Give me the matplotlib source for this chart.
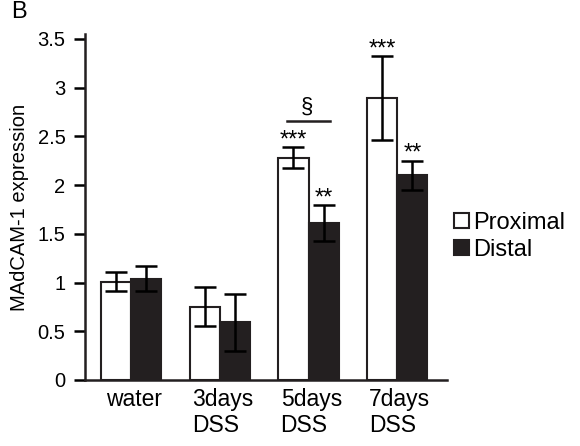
import matplotlib
matplotlib.use('Agg')
import matplotlib.pyplot as plt
from matplotlib.patches import Patch
import numpy as np

plt.rcParams['font.family'] = ['Liberation Sans', 'DejaVu Sans']

groups = ['water', '3days\nDSS', '5days\nDSS', '7days\nDSS']
proximal = [1.01, 0.75, 2.28, 2.89]
proximal_err = [0.10, 0.20, 0.105, 0.43]
distal = [1.04, 0.59, 1.61, 2.10]
distal_err = [0.13, 0.29, 0.18, 0.15]
proximal_marks = ['', '', '***', '***']
distal_marks = ['', '', '**', '**']

dark = '#231f20'
x = np.arange(len(groups))
w = 0.34

fig = plt.figure(figsize=(5.8, 4.46), dpi=100)
ax = fig.add_axes([0.1466, 0.148, 0.624, 0.776])

ax.bar(x - w/2, proximal, w, color='white', edgecolor=dark, linewidth=1.5,
       yerr=proximal_err, capsize=8, error_kw=dict(elinewidth=1.8, capthick=1.8, ecolor='black'))
ax.bar(x + w/2, distal, w, color=dark, edgecolor=dark, linewidth=1.5,
       yerr=distal_err, capsize=8, error_kw=dict(elinewidth=1.8, capthick=1.8, ecolor='black'))

# Значимость над столбиками
for i in range(len(groups)):
    if proximal_marks[i]:
        ax.text(x[i] - w/2, proximal[i] + proximal_err[i] + 0.01, proximal_marks[i],
                ha='center', va='baseline', fontsize=17)
    if distal_marks[i]:
        ax.text(x[i] + w/2, distal[i] + distal_err[i] + 0.01, distal_marks[i],
                ha='center', va='baseline', fontsize=17)

# § между proximal и distal на 5 днях
ax.plot([x[2] - w/2 - 0.07, x[2] + w/2 + 0.07], [2.66, 2.66], color=dark, lw=1.8)
ax.text(x[2] - 0.02, 2.80, '§', ha='center', va='center', fontsize=16)

ax.set_xlim(-0.52, 3.56)
ax.set_ylim(0, 3.55)
ax.set_yticks([0, 0.5, 1, 1.5, 2, 2.5, 3, 3.5])
ax.set_yticklabels(['0', '0.5', '1', '1.5', '2', '2.5', '3', '3.5'])
ax.set_xticks(x + 0.03)
ax.set_xticklabels(groups, multialignment='left', linespacing=1.15)
ax.tick_params(axis='x', length=0, labelsize=16.5, pad=6)
ax.tick_params(axis='y', length=8, width=1.8, labelsize=14.5, pad=6)
for s in ['top', 'right']:
    ax.spines[s].set_visible(False)
for s in ['left', 'bottom']:
    ax.spines[s].set_linewidth(1.8)
    ax.spines[s].set_color(dark)

ax.set_ylabel('MAdCAM-1 expression', fontsize=14.5, labelpad=6)

handles = [Patch(facecolor='white', edgecolor=dark, linewidth=1.5, label='Proximal'),
           Patch(facecolor=dark, edgecolor=dark, linewidth=1.5, label='Distal')]
fig.legend(handles=handles, loc='upper left', bbox_to_anchor=(0.782, 0.525), frameon=False,
           fontsize=17, handlelength=0.64, handleheight=0.6, handletextpad=0.2,
           labelspacing=0.22, borderaxespad=0, borderpad=0)

fig.text(0.019, 0.997, 'B', ha='left', va='top', fontsize=17)

fig.savefig('out.png', dpi=100)
